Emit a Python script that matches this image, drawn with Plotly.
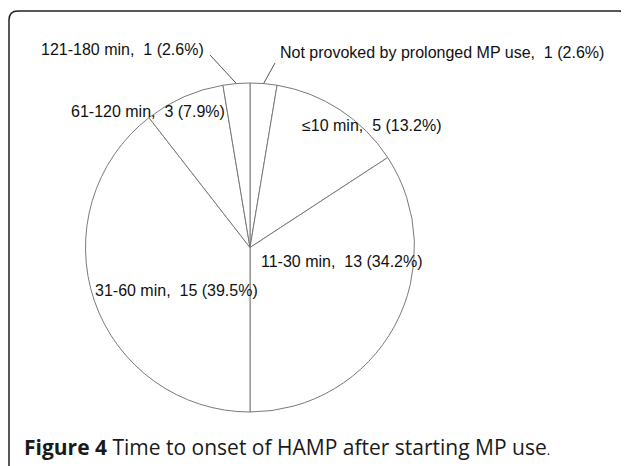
import math
import plotly.graph_objects as go

# ---- data ----
labels = ["Not provoked by prolonged MP use", "\u226410 min", "11-30 min",
          "31-60 min", "61-120 min", "121-180 min"]
counts = [1, 5, 13, 15, 3, 1]
percents = ["2.6%", "13.2%", "34.2%", "39.5%", "7.9%", "2.6%"]
caption_bold = "Figure 4"
caption_text = "Time to onset of HAMP after starting MP use"

OFF = 8                      # browser body margin
W, H = 629 - OFF, 466 - OFF
CX, CY, R = 250, 247.5, 164.5   # pie centre / radius in screen pixels


def px(x):
    return (x - OFF) / W


def py(y):
    return 1 - (y - OFF) / H


fig = go.Figure(go.Pie(
    labels=labels, values=counts, sort=False, direction="clockwise", rotation=0,
    textinfo="none", hoverinfo="label+value",
    marker=dict(colors=["white"] * len(counts), line=dict(color="#7a7a7a", width=1)),
    domain=dict(x=[px(CX - R), px(CX + R)], y=[py(CY + R), py(CY - R)]),
    showlegend=False,
))

# label placement (screen pixel centres) and optional leader start
label_pos = {
    "Not provoked by prolonged MP use": (442, 53, (275, 63)),
    "\u226410 min": (372, 125, None),
    "11-30 min": (342, 262, None),
    "31-60 min": (176, 290, None),
    "61-120 min": (148, 112, None),
    "121-180 min": (122, 50, (210, 55)),
}

total = sum(counts)
cum = 0
annotations = []
shapes = []
for lab, c, p in zip(labels, counts, percents):
    mid = 2 * math.pi * (cum + c / 2) / total
    cum += c
    x, y, lead = label_pos[lab]
    annotations.append(dict(
        x=px(x), y=py(y), xref="paper", yref="paper", showarrow=False,
        text=f"{lab}, \u00a0{c} ({p})", xanchor="center", yanchor="middle",
        font=dict(family="Liberation Sans, Arial", size=16, color="#111111"),
    ))
    if lead:
        ex = CX + R * math.sin(mid)
        ey = CY - R * math.cos(mid)
        shapes.append(dict(type="line", xref="paper", yref="paper",
                           x0=px(lead[0]), y0=py(lead[1]), x1=px(ex), y1=py(ey),
                           line=dict(color="#555555", width=1)))

# caption
annotations.append(dict(
    x=px(22), y=py(447), xref="paper", yref="paper", showarrow=False,
    xanchor="left", yanchor="middle",
    text=f"<b>{caption_bold}</b> {caption_text}<span style='font-size:13px'>.</span>",
    font=dict(family="Open Sans", size=21, color="#1a1a1a"),
))

# frame (rounded top-left corner, open at bottom/right)
path = (f"M {px(9)},{py(480)} L {px(9)},{py(20)} "
        f"Q {px(9)},{py(11)} {px(18)},{py(11)} "
        f"L {px(619)},{py(11)} Q {px(628)},{py(11)} {px(628)},{py(20)} L {px(628)},{py(480)}")
shapes.append(dict(type="path", xref="paper", yref="paper", path=path,
                   line=dict(color="#222222", width=1.5)))

fig.update_layout(
    width=W, height=H, margin=dict(l=0, r=0, t=0, b=0),
    paper_bgcolor="white", plot_bgcolor="white",
    annotations=annotations, shapes=shapes,
)
fig.write_html("out.html")
